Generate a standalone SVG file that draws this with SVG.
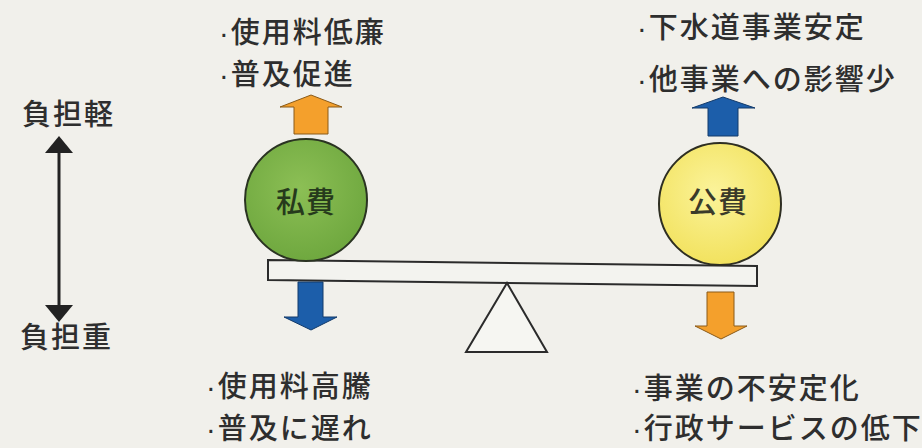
<svg xmlns="http://www.w3.org/2000/svg" width="922" height="448" viewBox="0 0 922 448">
<defs>
<style>
.t{font-family:"Noto Sans CJK JP","Noto Sans CJK SC",sans-serif;font-size:29px;font-weight:500;fill:#2e2e2e;letter-spacing:2px}
.d{font-family:"Liberation Sans",sans-serif}
.c{font-family:"Noto Sans CJK JP","Noto Sans CJK SC",sans-serif;font-size:29px;font-weight:500;text-anchor:middle;letter-spacing:1px}
.ln{stroke:#2b2b2b;stroke-width:2;fill:#f3f3ef}
.ar{stroke-width:1;stroke-linejoin:miter}
</style>
<radialGradient id="gg" cx="0.45" cy="0.4" r="0.6">
<stop offset="0" stop-color="#8cbf55"/>
<stop offset="1" stop-color="#6fa83f"/>
</radialGradient>
<radialGradient id="gy" cx="0.45" cy="0.4" r="0.6">
<stop offset="0" stop-color="#fbf39a"/>
<stop offset="1" stop-color="#f2e25e"/>
</radialGradient>
</defs>
<rect x="0" y="0" width="922" height="448" fill="#f1f0eb"/>

<g id="burden-light">
<text class="t" x="22" y="125">負担軽</text>
</g>
<g id="burden-heavy">
<text class="t" x="20" y="348">負担重</text>
</g>

<g id="beam">
<polygon class="ln" points="268,260 757,266 757,286 268,280"/>
</g>
<g id="fulcrum">
<polygon points="507,283 547,352 466,352" fill="#f6f6f2" stroke="#2b2b2b" stroke-width="2" stroke-linejoin="miter"/>
</g>

<g id="private">
<circle cx="306" cy="200" r="61" fill="url(#gg)" stroke="#2a3322" stroke-width="2"/>
<text class="c" x="306" y="213" fill="#263a1c">私費</text>
</g>
<g id="public">
<circle cx="720" cy="204" r="61" fill="url(#gy)" stroke="#2e2e22" stroke-width="2"/>
<text class="c" x="718" y="213" fill="#3a3a2a">公費</text>
</g>

<g id="connectors">
<line x1="59" y1="150" x2="59" y2="308" stroke="#222" stroke-width="3"/>
<polygon points="59,136 73,153 45,153" fill="#222"/>
<polygon points="59,322 73,305 45,305" fill="#222"/>
<polygon class="ar" points="311,95 342,107 328,107 328,134 294,134 294,107 280,107" fill="#f4a02c" stroke="#8a5a18"/>
<polygon class="ar" points="723,97 755,108 738,108 738,136 708,136 708,108 692,108" fill="#1c5eaa" stroke="#123a6a"/>
<polygon class="ar" points="298,282 323,282 323,317 337,317 311,330 284,317 298,317" fill="#1c5eaa" stroke="#123a6a"/>
<polygon class="ar" points="707,292 734,292 734,326 747,326 721,339 695,326 707,326" fill="#f4a02c" stroke="#8a5a18"/>
</g>

<g id="private-up">
<text class="t" x="219" y="43"><tspan class="d">·</tspan>使用料低廉</text>
<text class="t" x="219" y="85"><tspan class="d">·</tspan>普及促進</text>
</g>
<g id="public-up">
<text class="t" x="637" y="38"><tspan class="d">·</tspan>下水道事業安定</text>
<text class="t" x="637" y="90"><tspan class="d">·</tspan>他事業への影響少</text>
</g>
<g id="private-down">
<text class="t" x="206" y="397"><tspan class="d">·</tspan>使用料高騰</text>
<text class="t" x="206" y="439"><tspan class="d">·</tspan>普及に遅れ</text>
</g>
<g id="public-down">
<text class="t" x="632" y="399"><tspan class="d">·</tspan>事業の不安定化</text>
<text class="t" x="632" y="439"><tspan class="d">·</tspan>行政サービスの低下</text>
</g>
</svg>
